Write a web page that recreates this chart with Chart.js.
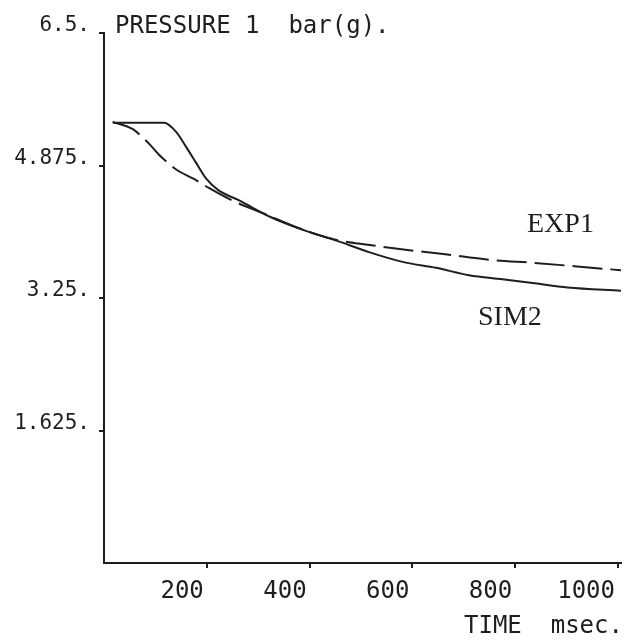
<!DOCTYPE html>
<html>
<head>
<meta charset="utf-8">
<script src="https://cdn.jsdelivr.net/npm/chart.js@4.4.1/dist/chart.umd.min.js"></script>
<style>
    html, body { margin: 0; padding: 0; background: #fff; }
    #wrap { width: 627px; height: 641px; position: relative; }
</style>
</head>
<body>
<div id="wrap"><canvas id="pressureChart"></canvas></div>
<script>
// Valores (tempo em msec, pressão em bar(g))
const simTempo = [17, 117, 140, 160, 179, 198, 223, 262, 325, 390, 454, 517, 583, 646, 710, 775, 838, 902, 1006];
const simPressao = [5.40, 5.40, 5.29, 5.10, 4.91, 4.72, 4.57, 4.45, 4.24, 4.08, 3.95, 3.81, 3.69, 3.62, 3.53, 3.48, 3.43, 3.38, 3.34];

const expTempo = [17, 56, 88, 108, 142, 175, 204, 248, 313, 377, 454, 517, 575, 660, 748, 838, 915, 1006];
const expPressao = [5.41, 5.32, 5.14, 5.00, 4.82, 4.71, 4.60, 4.45, 4.28, 4.11, 3.96, 3.90, 3.85, 3.79, 3.72, 3.68, 3.64, 3.59];

const xTicks = [200, 400, 600, 800, 1000];
const yTicks = [1.625, 3.25, 4.875, 6.5];

const TINTA = '#1e1e1e';
const MONO = '"DejaVu Sans Mono", monospace';

// Textos soltos: título, nomes das curvas e unidade do eixo x
const textosPlugin = {
    id: 'textos',
    afterDraw(chart) {
        const ctx = chart.ctx;
        ctx.save();
        ctx.fillStyle = TINTA;
        ctx.textBaseline = 'alphabetic';
        ctx.textAlign = 'left';
        ctx.font = '24px ' + MONO;
        ctx.fillText('PRESSURE 1  bar(g).', 115, 33);
        ctx.fillText('TIME  msec.', 464, 633);
        ctx.font = '28px "Liberation Serif", serif';
        ctx.fillText('EXP1', 527, 232);
        ctx.fillText('SIM2', 478, 325);
        ctx.restore();
    }
};

document.addEventListener('DOMContentLoaded', function() {
    const ctx = document.getElementById('pressureChart');

    new Chart(ctx.getContext('2d'), {
        type: 'line',
        data: {
            datasets: [
                {
                    label: 'SIM2',
                    data: simTempo.map((t, i) => ({ x: t, y: simPressao[i] })),
                    borderColor: TINTA,
                    borderWidth: 2,
                    pointRadius: 0,
                    cubicInterpolationMode: 'monotone'
                },
                {
                    label: 'EXP1',
                    data: expTempo.map((t, i) => ({ x: t, y: expPressao[i] })),
                    borderColor: TINTA,
                    borderWidth: 2,
                    borderDash: [30, 8],
                    pointRadius: 0,
                    cubicInterpolationMode: 'monotone'
                }
            ]
        },
        options: {
            responsive: true,
            maintainAspectRatio: false,
            animation: false,
            layout: { padding: { top: 33, right: 0, bottom: 0, left: 0 } },
            plugins: {
                legend: { display: false },
                tooltip: { enabled: false }
            },
            scales: {
                x: {
                    type: 'linear',
                    min: 0,
                    max: 1006,
                    afterBuildTicks: function(scale) {
                        scale.ticks = xTicks.map(v => ({ value: v }));
                    },
                    afterFit: function(scale) { scale.height = 78; },
                    border: { color: TINTA, width: 2 },
                    grid: { drawOnChartArea: false, color: TINTA, tickLength: 5, lineWidth: 2 },
                    ticks: {
                        align: 'end',
                        padding: 9,
                        labelOffset: -3,
                        color: TINTA,
                        font: { family: MONO, size: 24 },
                        maxRotation: 0,
                        callback: function(value) { return String(value); }
                    }
                },
                y: {
                    min: 0,
                    max: 6.5,
                    afterBuildTicks: function(scale) {
                        scale.ticks = yTicks.map(v => ({ value: v }));
                    },
                    afterFit: function(scale) { scale.width = 104; },
                    border: { color: TINTA, width: 2 },
                    grid: { drawOnChartArea: false, color: TINTA, tickLength: 5, lineWidth: 2 },
                    ticks: {
                        padding: 9,
                        labelOffset: -7,
                        color: TINTA,
                        font: { family: MONO, size: 21 },
                        callback: function(value) { return value + '.'; }
                    }
                }
            }
        },
        plugins: [textosPlugin]
    });
});
</script>
</body>
</html>
